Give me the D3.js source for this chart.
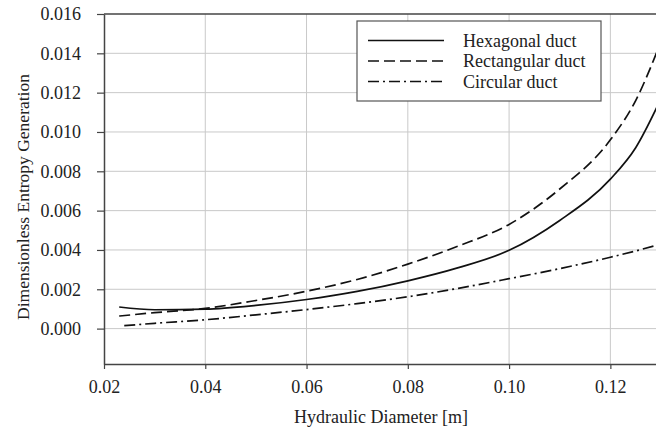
<!DOCTYPE html>
<html>
<head>
<meta charset="utf-8">
<script src="https://cdn.jsdelivr.net/npm/d3@7"></script>
<style>
    body { margin: 0; background: #fff; }
    svg { display: block; }
    text { font-family: "Liberation Serif", "Times New Roman", serif; }
</style>
</head>
<body>
<svg id="chart" width="656" height="430"></svg>
<script>
var xValues = [0.023, 0.03, 0.04, 0.05, 0.06, 0.07, 0.08, 0.09, 0.10, 0.11, 0.12, 0.125, 0.13];
var hexagonal = [0.00110, 0.00096, 0.00099, 0.00118, 0.00148, 0.00189, 0.00243, 0.00310, 0.00398, 0.00550, 0.00760, 0.00920, 0.01170];
var rectangular = [0.00064, 0.00081, 0.00103, 0.00143, 0.00190, 0.00250, 0.00328, 0.00420, 0.00530, 0.00710, 0.00960, 0.01160, 0.01460];
var circularX = [0.024, 0.03, 0.04, 0.05, 0.06, 0.07, 0.08, 0.09, 0.10, 0.11, 0.12, 0.125, 0.13];
var circular = [0.00015, 0.00027, 0.00045, 0.00070, 0.00097, 0.00127, 0.00162, 0.00205, 0.00254, 0.00305, 0.00363, 0.00395, 0.00430];

var xTicks = [0.02, 0.04, 0.06, 0.08, 0.10, 0.12];
var yTicks = [0.000, 0.002, 0.004, 0.006, 0.008, 0.010, 0.012, 0.014, 0.016];
var seriesNames = ["Hexagonal duct", "Rectangular duct", "Circular duct"];

var svg = d3.select("#chart");
var width = 656, height = 430;

// plot area (right side runs past the picture edge)
var plotLeft = 104, plotTop = 14, plotBottom = 364;
var xScale = d3.scaleLinear().domain([0.02, 0.13]).range([plotLeft, 661]);
var yScale = d3.scaleLinear().domain([-0.0018, 0.016]).range([plotBottom, plotTop]);

var series = [
    {name: seriesNames[0], xs: xValues, ys: hexagonal, dash: null},
    {name: seriesNames[1], xs: xValues, ys: rectangular, dash: "11,5"},
    {name: seriesNames[2], xs: circularX, ys: circular, dash: "11,4,2,4"}
];

svg.append("defs").append("clipPath")
    .attr("id", "plotClip")
    .append("rect")
    .attr("x", plotLeft).attr("y", plotTop)
    .attr("width", width - plotLeft).attr("height", plotBottom - plotTop);

// grid
var grid = svg.append("g").attr("class", "grid");
grid.selectAll("line.vg")
    .data(xTicks.slice(1))
    .enter().append("line")
    .attr("class", "vg")
    .attr("x1", function (d) { return xScale(d); })
    .attr("x2", function (d) { return xScale(d); })
    .attr("y1", plotTop).attr("y2", plotBottom)
    .style("stroke", "#c9c9c9").style("stroke-width", 1);
grid.selectAll("line.hg")
    .data(yTicks.slice(0, -1))
    .enter().append("line")
    .attr("class", "hg")
    .attr("x1", plotLeft).attr("x2", width)
    .attr("y1", function (d) { return yScale(d); })
    .attr("y2", function (d) { return yScale(d); })
    .style("stroke", "#c9c9c9").style("stroke-width", 1);

// top border
svg.append("line")
    .attr("x1", plotLeft).attr("x2", width)
    .attr("y1", yScale(0.016)).attr("y2", yScale(0.016))
    .style("stroke", "#444").style("stroke-width", 1.3);

// axes
var xAxis = d3.axisBottom(xScale).tickValues(xTicks).tickFormat(d3.format(".2f"))
    .tickSizeInner(5).tickSizeOuter(0).tickPadding(11);
var yAxis = d3.axisLeft(yScale).tickValues(yTicks).tickFormat(d3.format(".3f"))
    .tickSizeInner(7).tickSizeOuter(0).tickPadding(16);

svg.append("g")
    .attr("class", "xAxisG")
    .attr("transform", "translate(0," + plotBottom + ")")
    .call(xAxis)
    .attr("font-size", 18);
svg.append("g")
    .attr("class", "yAxisG")
    .attr("transform", "translate(" + plotLeft + ",0)")
    .call(yAxis)
    .attr("font-size", 18);

svg.selectAll(".xAxisG path, .yAxisG path")
    .style("stroke", "#444").style("stroke-width", 1.5);
svg.selectAll(".xAxisG line, .yAxisG line")
    .style("stroke", "#444").style("stroke-width", 1.2);
svg.selectAll(".xAxisG text, .yAxisG text")
    .style("fill", "#222");

// curves
var line = d3.line()
    .x(function (d) { return xScale(d[0]); })
    .y(function (d) { return yScale(d[1]); })
    .curve(d3.curveMonotoneX);

svg.append("g")
    .attr("clip-path", "url(#plotClip)")
    .selectAll("path")
    .data(series)
    .enter().append("path")
    .attr("d", function (s) {
        return line(s.xs.map(function (x, i) { return [x, s.ys[i]]; }));
    })
    .style("fill", "none")
    .style("stroke", "#111")
    .style("stroke-width", 1.7)
    .style("stroke-dasharray", function (s) { return s.dash; });

// axis titles
svg.append("text")
    .attr("x", 381).attr("y", 423)
    .attr("text-anchor", "middle")
    .style("font-size", "18px").style("fill", "#222")
    .text("Hydraulic Diameter [m]");
svg.append("text")
    .attr("transform", "translate(29,197) rotate(-90)")
    .attr("text-anchor", "middle")
    .style("font-size", "17.5px").style("fill", "#222")
    .text("Dimensionless Entropy Generation");

// legend
var legend = svg.append("g").attr("class", "legend");
legend.append("rect")
    .attr("x", 357).attr("y", 21)
    .attr("width", 244).attr("height", 80)
    .style("fill", "#fff").style("stroke", "#555").style("stroke-width", 1.2);

var rows = legend.selectAll("g.row")
    .data(series)
    .enter().append("g")
    .attr("class", "row")
    .attr("transform", function (d, i) { return "translate(0," + (40.5 + i * 20.5) + ")"; });
rows.append("line")
    .attr("x1", 368).attr("x2", 444)
    .style("stroke", "#111").style("stroke-width", 1.7)
    .style("stroke-dasharray", function (s) { return s.dash; });
rows.append("text")
    .attr("x", 463).attr("y", 6)
    .style("font-size", "18px").style("fill", "#222")
    .text(function (s) { return s.name; });
</script>
</body>
</html>
